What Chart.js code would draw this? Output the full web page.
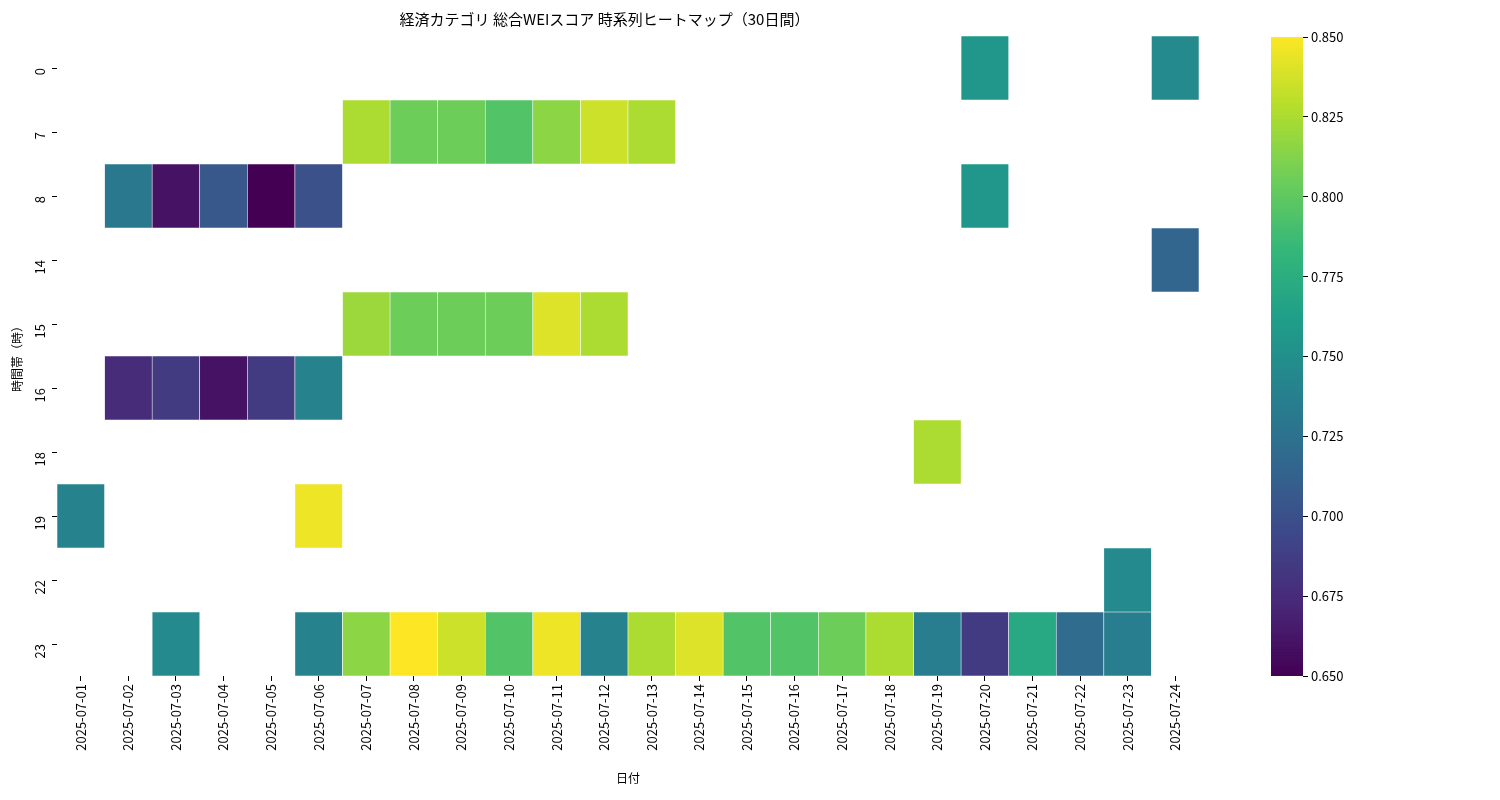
<!DOCTYPE html>
<html><head><meta charset="utf-8">
<script src="https://cdn.jsdelivr.net/npm/chart.js@4"></script>
<style>
body{margin:0;background:#fff;}
.wrap{position:absolute;left:0;top:0;width:1500px;height:800px;}
</style></head>
<body>
<div class="wrap"><canvas id="chart" width="1500" height="800"></canvas></div>
<div class="wrap"><canvas id="bar" width="1500" height="800"></canvas></div>
<script>
const FONT = '"Noto Sans CJK JP", "Noto Sans", sans-serif';
const dates = ['2025-07-01','2025-07-02','2025-07-03','2025-07-04','2025-07-05','2025-07-06','2025-07-07','2025-07-08','2025-07-09','2025-07-10','2025-07-11','2025-07-12','2025-07-13','2025-07-14','2025-07-15','2025-07-16','2025-07-17','2025-07-18','2025-07-19','2025-07-20','2025-07-21','2025-07-22','2025-07-23','2025-07-24'];
const hours = ['0','7','8','14','15','16','18','19','22','23'];
// one row per hour, null = no data
const _ = null;
const scores = [
  [_,_,_,_,_,_,_,_,_,_,_,_,_,_,_,_,_,_,_,0.755,_,_,_,0.745],
  [_,_,_,_,_,_,0.825,0.805,0.805,0.795,0.815,0.835,0.825,_,_,_,_,_,_,_,_,_,_,_],
  [_,0.73,0.66,0.705,0.65,0.70,_,_,_,_,_,_,_,_,_,_,_,_,_,0.755,_,_,_,_],
  [_,_,_,_,_,_,_,_,_,_,_,_,_,_,_,_,_,_,_,_,_,_,_,0.715],
  [_,_,_,_,_,_,0.82,0.805,0.805,0.805,0.84,0.825,_,_,_,_,_,_,_,_,_,_,_,_],
  [_,0.675,0.685,0.66,0.685,0.74,_,_,_,_,_,_,_,_,_,_,_,_,_,_,_,_,_,_],
  [_,_,_,_,_,_,_,_,_,_,_,_,_,_,_,_,_,_,0.825,_,_,_,_,_],
  [0.74,_,_,_,_,0.845,_,_,_,_,_,_,_,_,_,_,_,_,_,_,_,_,_,_],
  [_,_,_,_,_,_,_,_,_,_,_,_,_,_,_,_,_,_,_,_,_,_,0.745,_],
  [_,_,0.745,_,_,0.74,0.815,0.85,0.835,0.795,0.845,0.74,0.825,0.84,0.795,0.795,0.805,0.825,0.735,0.685,0.77,0.72,0.735,_]
];
const vmin = 0.65, vmax = 0.85;

const viridis = [[68,1,84],[72,40,120],[62,73,137],[49,104,142],[38,130,142],[31,158,137],[53,183,121],[110,206,88],[181,222,43],[253,231,37]];
function colorFor(v) {
  let t = Math.min(1, Math.max(0, (v - vmin) / (vmax - vmin))) * (viridis.length - 1);
  const i = Math.min(viridis.length - 2, Math.floor(t));
  const f = t - i;
  const a = viridis[i], b = viridis[i + 1];
  return `rgb(${a.map((c, k) => Math.round(c + (b[k] - c) * f)).join(',')})`;
}

const datasets = hours.map((h, r) => ({
  data: scores[r].map(v => v == null ? null : [r, r + 1]),
  backgroundColor: scores[r].map(v => v == null ? 'transparent' : colorFor(v)),
  borderColor: '#fff',
  borderWidth: 0.6,
  borderSkipped: false,
  grouped: false,
  barPercentage: 1,
  categoryPercentage: 1
}));

const tickGrid = { display: true, drawOnChartArea: false, drawTicks: true, tickLength: 5, color: '#000', offset: false };

new Chart(document.getElementById('chart'), {
  type: 'bar',
  data: { labels: dates, datasets },
  options: {
    responsive: false, animation: false,
    layout: { padding: { left: 10, right: 301, top: 0, bottom: 0 } },
    plugins: {
      legend: { display: false }, tooltip: { enabled: false },
      title: { display: true, text: '経済カテゴリ 総合WEIスコア 時系列ヒートマップ（30日間）', color: '#000', font: { family: FONT, size: 15, weight: 'normal' }, padding: { top: 10, bottom: 8 } }
    },
    scales: {
      x: {
        afterFit: s => { s.height = 124; },
        grid: tickGrid,
        border: { display: false },
        ticks: { color: '#000', font: { family: FONT, size: 13 }, maxRotation: 90, minRotation: 90 },
        title: { display: true, text: '日付', color: '#000', font: { family: FONT, size: 12 }, padding: { top: 0, bottom: 14 } }
      },
      y: {
        type: 'linear', min: 0, max: hours.length, reverse: true,
        afterBuildTicks: s => { s.ticks = hours.map((h, i) => ({ value: i + 0.5 })); },
        afterFit: s => { s.width = 47; },
        grid: tickGrid,
        border: { display: false },
        ticks: { color: '#000', padding: 12, font: { family: FONT, size: 13 }, minRotation: 90, maxRotation: 90, callback: v => hours[Math.floor(v)] },
        title: { display: true, text: '時間帯（時）', color: '#000', font: { family: FONT, size: 12 }, padding: 0 }
      }
    }
  }
});

// colour bar
const steps = [];
for (let i = 0; i < 200; i++) steps.push(vmin + (vmax - vmin) * i / 200);
new Chart(document.getElementById('bar'), {
  type: 'bar',
  data: {
    labels: [''],
    datasets: steps.map(v => ({
      data: [[v, v + (vmax - vmin) / 200 + 0.0003]],
      backgroundColor: colorFor(v + 0.0005),
      borderWidth: 0, grouped: false, barPercentage: 1, categoryPercentage: 1
    }))
  },
  options: {
    responsive: false, animation: false,
    layout: { padding: { left: 1271, right: 147, top: 37, bottom: 124 } },
    plugins: { legend: { display: false }, tooltip: { enabled: false } },
    scales: {
      x: { display: false },
      y: {
        position: 'right', min: vmin, max: vmax,
        afterFit: s => { s.width = 50; },
        grid: tickGrid,
        border: { display: false },
        ticks: { stepSize: 0.025, color: '#000', font: { family: FONT, size: 13 }, callback: v => v.toFixed(3) }
      }
    }
  }
});
</script>
</body></html>
